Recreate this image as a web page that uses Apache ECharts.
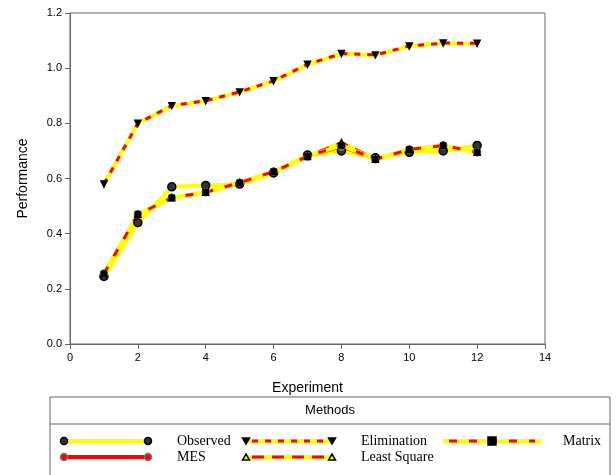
<!DOCTYPE html>
<html>
<head>
    <meta charset="utf-8">
    <title>Performance</title>
    <script src="https://cdn.jsdelivr.net/npm/echarts@6/dist/echarts.min.js"></script>
</head>
<body style="margin:0">
<div id="main" style="width: 616px;height:475px;"></div>
<script type="text/javascript">
    var myChart = echarts.init(document.getElementById('main'));

    var experiments = [1, 2, 3, 4, 5, 6, 7, 8, 9, 10, 11, 12];
    var observed    = [0.245, 0.44, 0.57, 0.575, 0.58, 0.62, 0.685, 0.70, 0.675, 0.695, 0.70, 0.72];
    var mes         = [0.255, 0.47, 0.53, 0.55, 0.585, 0.625, 0.68, 0.715, 0.67, 0.705, 0.72, 0.695];
    var elimination = [0.58, 0.80, 0.864, 0.882, 0.914, 0.954, 1.014, 1.053, 1.048, 1.08, 1.091, 1.09];
    var leastSquare = [0.255, 0.47, 0.53, 0.55, 0.585, 0.625, 0.68, 0.73, 0.67, 0.705, 0.72, 0.695];
    var matrix      = [0.255, 0.47, 0.53, 0.55, 0.585, 0.625, 0.68, 0.72, 0.67, 0.705, 0.72, 0.695];
    var xTicks = [0, 14, 2];
    var yTicks = [0, 1.2, 0.2];

    function pairs(ys) {
        return experiments.map(function (x, i) { return [x, ys[i]]; });
    }

    // yellow underlay + red dashed overlay, like the two-tone lines of the figure
    function line(name, ys, color, width, dash, symbol, symColor, symBorder, size) {
        return {
            name: name,
            type: 'line',
            data: pairs(ys),
            symbol: symbol,
            symbolSize: size || 6,
            showSymbol: symbol !== 'none',
            itemStyle: {color: symColor, borderColor: symBorder, borderWidth: 1.5},
            lineStyle: {color: color, width: width, type: dash},
            z: 3,
            silent: true
        };
    }

    var Y = '#ffff00', R = '#ff0000';
    var series = [
        line('Observed', observed, Y, 4, 'solid', 'circle', '#333', '#000', 8),
        line('MES', mes, R, 3, 'solid', 'circle', R, '#777', 7),
        line('', elimination, Y, 4, 'solid', 'none'),
        line('Elimination', elimination, R, 3, [6, 7], 'triangle', '#000', '#000', 6),
        line('', leastSquare, Y, 4, 'solid', 'none'),
        line('Least Square', leastSquare, R, 3, [12, 8], 'triangle', Y, '#000', 6),
        line('', matrix, Y, 4, 'solid', 'none'),
        line('Matrix', matrix, R, 3, [8, 12], 'rect', '#000', '#000', 5)
    ];
    series[3].symbolRotate = 180;

    // legend drawn by hand: the swatches have symbols at both ends
    var legendGraphics = [
        {type: 'rect', shape: {x: 50, y: 397, width: 560, height: 90},
            style: {fill: 'none', stroke: '#666', lineWidth: 1}},
        {type: 'line', shape: {x1: 50, y1: 424, x2: 610, y2: 424}, style: {stroke: '#666', lineWidth: 1}},
        {type: 'text', x: 330, y: 410, style: {text: 'Methods', font: '13px "Liberation Sans"', fill: '#000',
            align: 'center', verticalAlign: 'middle'}}
    ];
    function swatch(x1, x2, y, under, over, dash) {
        legendGraphics.push({type: 'line', shape: {x1: x1, y1: y, x2: x2, y2: y}, style: {stroke: under, lineWidth: 4}});
        if (over) {
            legendGraphics.push({type: 'line', shape: {x1: x1 + 6, y1: y, x2: x2 - 6, y2: y},
                style: {stroke: over, lineWidth: 3, lineDash: dash}});
        }
    }
    function mark(kind, x, y, fill, stroke) {
        var g;
        if (kind === 'circle') {
            g = {type: 'circle', shape: {cx: x, cy: y, r: 3.5}};
        } else if (kind === 'rect') {
            g = {type: 'rect', shape: {x: x - 4, y: y - 4, width: 8, height: 8}};
        } else {
            var s = kind === 'down' ? 1 : -1;
            g = {type: 'polygon', shape: {points: [[x - 3.5, y - 3 * s], [x + 3.5, y - 3 * s], [x, y + 3 * s]]}};
        }
        g.style = {fill: fill, stroke: stroke, lineWidth: 1.5};
        legendGraphics.push(g);
    }
    function label(text, x, y) {
        legendGraphics.push({type: 'text', x: x, y: y, style: {text: text, font: '14px "Liberation Serif"',
            fill: '#000', verticalAlign: 'middle'}});
    }
    var r1 = 441, r2 = 457;
    swatch(64, 148, r1, Y); mark('circle', 64, r1, '#333', '#000'); mark('circle', 148, r1, '#333', '#000'); label('Observed', 177, r1);
    swatch(64, 148, r2, R); mark('circle', 64, r2, R, '#777'); mark('circle', 148, r2, R, '#777'); label('MES', 177, r2);
    swatch(246, 332, r1, Y, R, [6, 7]); mark('down', 246, r1, '#000', '#000'); mark('down', 332, r1, '#000', '#000'); label('Elimination', 361, r1);
    swatch(246, 332, r2, Y, R, [12, 8]); mark('up', 246, r2, Y, '#000'); mark('up', 332, r2, Y, '#000'); label('Least Square', 361, r2);
    swatch(443, 541, r1, Y, R, [8, 12]); mark('rect', 492, r1, '#000', '#000'); label('Matrix', 563, r1);

    var axisFont = {fontFamily: 'Liberation Sans', fontSize: 11, color: '#000'};
    var option = {
        backgroundColor: '#fff',
        animation: false,
        grid: {left: 70, right: 71, top: 13, bottom: 131, show: true, borderColor: '#666', borderWidth: 1},
        xAxis: {
            type: 'value', min: xTicks[0], max: xTicks[1], interval: xTicks[2],
            name: 'Experiment', nameLocation: 'middle', nameGap: 37,
            nameTextStyle: {fontFamily: 'Liberation Sans', fontSize: 14, color: '#000'},
            axisLine: {show: true, lineStyle: {color: '#666'}},
            axisTick: {show: true, length: 5, lineStyle: {color: '#666'}},
            axisLabel: axisFont,
            splitLine: {show: false}
        },
        yAxis: {
            type: 'value', min: yTicks[0], max: yTicks[1], interval: yTicks[2],
            name: 'Performance', nameLocation: 'middle', nameGap: 40,
            nameTextStyle: {fontFamily: 'Liberation Sans', fontSize: 14, color: '#000'},
            axisLine: {show: true, lineStyle: {color: '#666'}},
            axisTick: {show: true, length: 5, lineStyle: {color: '#666'}},
            axisLabel: Object.assign({formatter: function (v) { return v.toFixed(1); }}, axisFont),
            splitLine: {show: false}
        },
        graphic: legendGraphics,
        series: series
    };

    myChart.setOption(option);
</script>
</body>
</html>
